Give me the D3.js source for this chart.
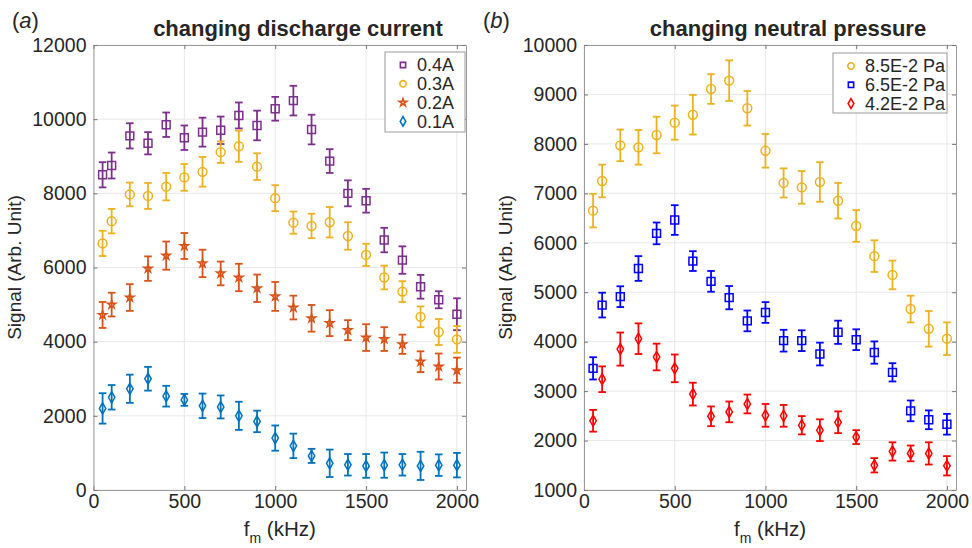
<!DOCTYPE html>
<html>
<head>
<meta charset="utf-8">
<script src="https://cdn.jsdelivr.net/npm/d3@7"></script>
<style>
  html, body { margin: 0; padding: 0; background: #fff; }
  svg { display: block; }
  text { font-family: "Liberation Sans", Arial, Helvetica, sans-serif; fill: #262626; }
</style>
</head>
<body>
<svg id="chart" width="972" height="548"></svg>
<script>
// ---------------- DATA ----------------
const freqs = [50, 100, 200, 300, 400, 500, 600, 700, 800, 900, 1000, 1100, 1200, 1300, 1400, 1500, 1600, 1700, 1800, 1900, 2000];
const xTicks = [0, 500, 1000, 1500, 2000];

// Panel (a): changing discharge current
const titleA = "changing discharge current";
const yTicksA = [0, 2000, 4000, 6000, 8000, 10000, 12000];
const legendA = ["0.4A", "0.3A", "0.2A", "0.1A"];
const cur04 = [8500, 8750, 9550, 9350, 9850, 9500, 9650, 9700, 10100, 9830, 10280, 10500, 9720, 8870, 8000, 7800, 6740, 6200, 5480, 5130, 4740];
const cur04Err = [340, 350, 340, 300, 330, 330, 390, 370, 350, 400, 320, 400, 400, 320, 350, 320, 330, 370, 320, 230, 430];
const cur03 = [6650, 7250, 7970, 7930, 8180, 8430, 8580, 9110, 9270, 8720, 7870, 7210, 7120, 7220, 6850, 6340, 5730, 5350, 4670, 4260, 4060];
const cur03Err = [340, 330, 320, 350, 370, 360, 400, 290, 420, 360, 350, 300, 330, 410, 370, 300, 320, 280, 280, 350, 360];
const cur02 = [4720, 5000, 5190, 5970, 6320, 6580, 6110, 5840, 5730, 5440, 5220, 4920, 4630, 4500, 4310, 4110, 4070, 3930, 3460, 3330, 3230];
const cur02Err = [350, 320, 360, 330, 380, 350, 370, 320, 370, 370, 390, 320, 360, 350, 270, 360, 320, 260, 280, 350, 340];
const cur01 = [2200, 2500, 2730, 3000, 2530, 2430, 2270, 2240, 2000, 1850, 1400, 1190, 920, 720, 680, 650, 670, 680, 650, 670, 670];
const cur01Err = [410, 330, 380, 320, 280, 160, 330, 310, 380, 290, 340, 330, 190, 370, 290, 320, 340, 290, 380, 290, 330];

// Panel (b): changing neutral pressure
const titleB = "changing neutral pressure";
const yTicksB = [1000, 2000, 3000, 4000, 5000, 6000, 7000, 8000, 9000, 10000];
const legendB = ["8.5E-2 Pa", "6.5E-2 Pa", "4.2E-2 Pa"];
const p85 = [6650, 7250, 7970, 7930, 8180, 8430, 8590, 9110, 9280, 8720, 7860, 7210, 7120, 7230, 6850, 6340, 5730, 5350, 4660, 4260, 4060];
const p85Err = [340, 330, 320, 350, 370, 345, 400, 300, 410, 350, 340, 295, 330, 400, 360, 320, 320, 290, 270, 360, 330];
const p65 = [3460, 4740, 4910, 5480, 6190, 6460, 5630, 5220, 4890, 4420, 4590, 4020, 4020, 3750, 4190, 4040, 3780, 3380, 2600, 2420, 2330];
const p65Err = [225, 250, 210, 250, 220, 300, 200, 210, 235, 210, 210, 220, 210, 230, 235, 210, 225, 185, 210, 190, 210];
const p42 = [2400, 3240, 3850, 4060, 3690, 3460, 2940, 2490, 2580, 2740, 2510, 2500, 2310, 2210, 2370, 2070, 1500, 1780, 1740, 1740, 1490];
const p42Err = [220, 260, 335, 310, 270, 280, 230, 200, 210, 190, 230, 220, 185, 220, 220, 140, 145, 185, 160, 225, 195];

// ---------------- DRAWING ----------------
const svg = d3.select("#chart");
const TXT = "#262626";
const FRAME = "#9a9a9a";
const GRID = "#e8e8e8";
const FS = 19.5;

const panels = [
  {
    tag: "a", title: titleA, titleX: 298, tagX: 12,
    xRange: [93.5, 466], yDomain: [0, 12000], yRange: [490, 45], yTicks: yTicksA,
    ylabelX: 21,
    legend: { x: 385, y: 52, w: 80, h: 80, labels: legendA },
    series: [
      { vals: cur04, errs: cur04Err, color: "#7E2F8E", sym: d3.symbolSquare, size: 62, lsize: 28 },
      { vals: cur03, errs: cur03Err, color: "#EDB120", sym: d3.symbolCircle, size: 62, lsize: 32 },
      { vals: cur02, errs: cur02Err, color: "#D95319", sym: d3.symbolStar, size: 21, lsize: 17 },
      { vals: cur01, errs: cur01Err, color: "#0072BD", sym: d3.symbolDiamond, size: 36, lsize: 26 }
    ]
  },
  {
    tag: "b", title: titleB, titleX: 788, tagX: 483,
    xRange: [584, 956], yDomain: [1000, 10000], yRange: [490, 45], yTicks: yTicksB,
    ylabelX: 511.5,
    legend: { x: 833, y: 53, w: 114, h: 60, labels: legendB },
    series: [
      { vals: p85, errs: p85Err, color: "#EDB120", sym: d3.symbolCircle, size: 62, lsize: 32 },
      { vals: p65, errs: p65Err, color: "#0000FF", sym: d3.symbolSquare, size: 62, lsize: 28 },
      { vals: p42, errs: p42Err, color: "#FF0000", sym: d3.symbolDiamond, size: 36, lsize: 28 }
    ]
  }
];

panels.forEach(p => {
  const x = d3.scaleLinear().domain([0, 2050]).range(p.xRange);
  const y = d3.scaleLinear().domain(p.yDomain).range(p.yRange);
  const g = svg.append("g");
  const [x0, x1] = p.xRange;
  const [yb, yt] = p.yRange;

  // grid
  g.append("g").selectAll("line").data(xTicks).join("line")
    .attr("x1", d => x(d)).attr("x2", d => x(d))
    .attr("y1", yt).attr("y2", yb)
    .attr("stroke", GRID).attr("stroke-width", 1);
  g.append("g").selectAll("line").data(p.yTicks).join("line")
    .attr("x1", x0).attr("x2", x1)
    .attr("y1", d => y(d)).attr("y2", d => y(d))
    .attr("stroke", GRID).attr("stroke-width", 1);

  // axes (inward ticks, MATLAB-like)
  const fmt = d3.format("d");
  const xAxisB = d3.axisBottom(x).tickValues(xTicks).tickFormat(fmt).tickSizeInner(-4).tickSizeOuter(0).tickPadding(4);
  const gx = g.append("g").attr("transform", `translate(0,${yb})`).call(xAxisB);
  const xAxisT = d3.axisTop(x).tickValues(xTicks).tickSizeInner(-4).tickSizeOuter(0).tickFormat("");
  const gxt = g.append("g").attr("transform", `translate(0,${yt})`).call(xAxisT);
  const yAxisL = d3.axisLeft(y).tickValues(p.yTicks).tickFormat(fmt).tickSizeInner(-4).tickSizeOuter(0).tickPadding(7);
  const gy = g.append("g").attr("transform", `translate(${x0},0)`).call(yAxisL);
  const yAxisR = d3.axisRight(y).tickValues(p.yTicks).tickSizeInner(-4).tickSizeOuter(0).tickFormat("");
  const gyr = g.append("g").attr("transform", `translate(${x1},0)`).call(yAxisR);
  [gx, gxt, gy, gyr].forEach(a => {
    a.select(".domain").attr("stroke", FRAME).attr("stroke-width", 1);
    a.selectAll(".tick line").attr("stroke", "#777");
    a.selectAll("text").attr("font-size", FS).attr("font-family", "Liberation Sans, Arial, sans-serif").attr("fill", TXT);
  });

  // error bars + markers
  p.series.forEach(s => {
    const sg = g.append("g");
    const pts = freqs.map((f, i) => ({ f, v: s.vals[i], e: s.errs[i] }));
    sg.selectAll("line.eb").data(pts).join("line").attr("class", "eb")
      .attr("x1", d => x(d.f)).attr("x2", d => x(d.f))
      .attr("y1", d => y(d.v - d.e)).attr("y2", d => y(d.v + d.e))
      .attr("stroke", s.color).attr("stroke-width", 1.8);
    sg.selectAll("line.cap1").data(pts).join("line").attr("class", "cap1")
      .attr("x1", d => x(d.f) - 3.8).attr("x2", d => x(d.f) + 3.8)
      .attr("y1", d => y(d.v + d.e)).attr("y2", d => y(d.v + d.e))
      .attr("stroke", s.color).attr("stroke-width", 1.8);
    sg.selectAll("line.cap2").data(pts).join("line").attr("class", "cap2")
      .attr("x1", d => x(d.f) - 3.8).attr("x2", d => x(d.f) + 3.8)
      .attr("y1", d => y(d.v - d.e)).attr("y2", d => y(d.v - d.e))
      .attr("stroke", s.color).attr("stroke-width", 1.8);
    sg.selectAll("path.mk").data(pts).join("path").attr("class", "mk")
      .attr("transform", d => `translate(${x(d.f)},${y(d.v)})`)
      .attr("d", d3.symbol().type(s.sym).size(s.size)())
      .attr("fill", "none").attr("stroke", s.color).attr("stroke-width", 1.5);
  });

  // legend
  const L = p.legend;
  const lg = g.append("g");
  lg.append("rect").attr("x", L.x).attr("y", L.y).attr("width", L.w).attr("height", L.h)
    .attr("fill", "#fff").attr("stroke", FRAME).attr("stroke-width", 1);
  L.labels.forEach((lab, i) => {
    const s = p.series[i];
    const cy = L.y + 13 + i * 18.8;
    lg.append("path")
      .attr("transform", `translate(${L.x + 18},${cy})`)
      .attr("d", d3.symbol().type(s.sym).size(s.lsize)())
      .attr("fill", "none").attr("stroke", s.color).attr("stroke-width", 1.6);
    lg.append("text").attr("x", L.x + 32).attr("y", cy + 6.3)
      .attr("font-size", 18).text(lab);
  });

  // title
  g.append("text").attr("x", p.titleX).attr("y", 36).attr("text-anchor", "middle")
    .attr("font-size", 22).attr("font-weight", "bold").attr("fill", "#111").text(p.title);

  // panel tag
  const tg = g.append("text").attr("x", p.tagX).attr("y", 28)
    .attr("font-family", "Liberation Serif, Times New Roman, serif").attr("font-size", 22).attr("fill", "#111");
  tg.append("tspan").text("(");
  tg.append("tspan").attr("font-style", "italic").text(p.tag);
  tg.append("tspan").text(")");

  // y label
  g.append("text").attr("transform", `translate(${p.ylabelX},${(yt + yb) / 2}) rotate(-90)`)
    .attr("text-anchor", "middle").attr("font-size", 19).text("Signal (Arb. Unit)");

  // x label
  const xl = g.append("text").attr("x", (x0 + x1) / 2).attr("y", 536)
    .attr("text-anchor", "middle").attr("font-size", 20.5);
  xl.append("tspan").text("f");
  xl.append("tspan").attr("font-size", 14).attr("dy", 7).text("m");
  xl.append("tspan").attr("dy", -7).text(" (kHz)");
});
</script>
</body>
</html>
